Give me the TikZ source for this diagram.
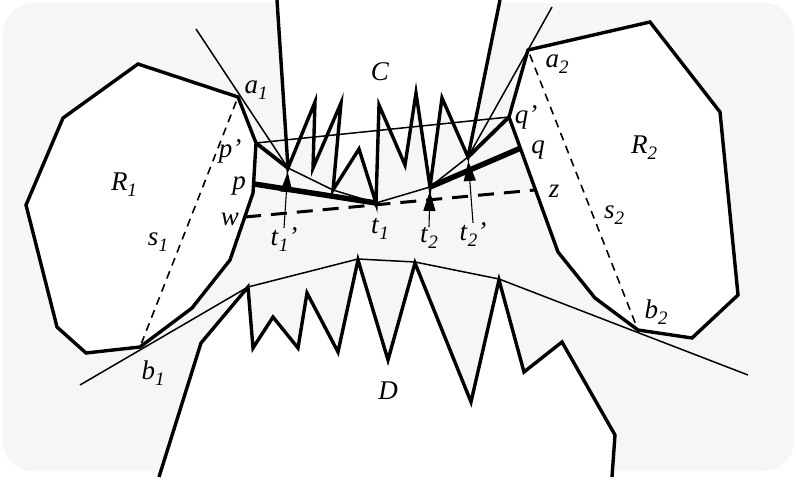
\documentclass[tikz,border=0pt]{standalone}
\usepackage{fontspec}
\setmainfont{Liberation Serif}
\usetikzlibrary{arrows.meta}
\definecolor{bg}{HTML}{F6F6F6}
\newcommand{\lab}[2]{\textit{#1}\raisebox{-6pt}{\fontsize{19}{19}\selectfont\textit{#2}}}

\begin{document}
\begin{tikzpicture}[x=1pt, y=-1pt, font=\fontsize{27}{27}\selectfont]
    \tikzset{
      edge/.style={line width=3.4pt},
      hull/.style={line width=1.5pt},
      bold/.style={line width=5.5pt},
      seg/.style={line width=3.8pt},
      sep/.style={line width=1.6pt, dash pattern=on 8pt off 6pt, shorten <=5pt, shorten >=4pt},
      cut/.style={line width=3pt, dash pattern=on 16pt off 10pt},
      ptr/.style={line width=1.1pt, -{Triangle[length=20pt,width=12pt]}, shorten >=4pt},
      lbl/.style={inner sep=0pt}
    }
    \useasboundingbox (0,0) rectangle (796,482);
    \fill[bg, rounded corners=30pt] (3,3) rectangle (794,471);
    % points
    \coordinate (a1) at (238,97);
    \coordinate (pp) at (256,143);
    \coordinate (p) at (254,184);
    \coordinate (w) at (245,217);
    \coordinate (b1) at (140,347);
    \coordinate (a2) at (528,50);
    \coordinate (qq) at (509,117);
    \coordinate (q) at (521,148);
    \coordinate (z) at (535,190);
    \coordinate (b2) at (638,330);
    \coordinate (t1) at (376,203);
    \coordinate (t2) at (430,187);
    \coordinate (t1p) at (288,168);
    \coordinate (t2p) at (468,157);
    % obstacles R1, R2
    \filldraw[fill=white, edge] (138,64) -- (a1) -- (pp) -- (253,193) -- (230,260) -- (192,308)
      -- (b1) -- (86,353) -- (57,327) -- (26,205) -- (63,118) -- cycle;
    \filldraw[fill=white, edge] (a2) -- (650,22) -- (720,112) -- (738,295) -- (692,338) -- (b2)
      -- (595,298) -- (558,252) -- (qq) -- cycle;
    % chains C and D
    \filldraw[fill=white, edge] (277,0) -- (t1p) -- (315,102) -- (313,168) -- (341,103) -- (333,190)
      -- (359,149) -- (t1) -- (379,105) -- (405,165) -- (416,93) -- (t2) -- (442,98) -- (t2p) -- (500,0);
    \filldraw[fill=white, edge] (159,477) -- (201,343) -- (248,287) -- (253,348) -- (273,317) -- (298,348)
      -- (307,293) -- (338,352) -- (358,260) -- (388,360) -- (415,263) -- (471,402) -- (499,280)
      -- (524,372) -- (562,342) -- (615,435) -- (612,477);
    % hulls
    \draw[hull] (80,385) -- (248,287) -- (358,259) -- (415,262) -- (499,279) -- (748,375);
    \draw[hull] (196,29) -- (t1p) -- (333,190) -- (t1) -- (t2) -- (t2p) -- (a2) -- (552,7);
    \draw[hull] (pp) -- (qq);
    % separators
    \draw[sep] (a1) -- (b1);
    \draw[sep] (a2) -- (b2);
    \draw[cut] (w) -- (z);
    \draw[seg] (pp) -- (t1p);
    \draw[seg] (t2p) -- (qq);
    \draw[bold] (p) -- (t1);
    \draw[bold] (t2) -- (q);
    % labels
    \node[lbl] (Clbl) at (380,72) {\textit{C}};
    \node[lbl] (Dlbl) at (388,391) {\textit{D}};
    \node[lbl] (R1lbl) at (124,185) {\lab{R}{1}};
    \node[lbl] (R2lbl) at (644,148) {\lab{R}{2}};
    \node[lbl] (a1lbl) at (256,90) {\lab{a}{1}};
    \node[lbl] (a2lbl) at (557,64) {\lab{a}{2}};
    \node[lbl] (b1lbl) at (153,373) {\lab{b}{1}};
    \node[lbl] (b2lbl) at (656,312) {\lab{b}{2}};
    \node[lbl] (s1lbl) at (158,242) {\lab{s}{1}};
    \node[lbl] (s2lbl) at (614,215) {\lab{s}{2}};
    \node[lbl] (pplbl) at (230,151) {\textit{p'}};
    \node[lbl] (plbl) at (239,186) {\textit{p}};
    \node[lbl] (wlbl) at (230,219) {\textit{w}};
    \node[lbl] (zlbl) at (554,191) {\textit{z}};
    \node[lbl] (qqlbl) at (526,117) {\textit{q'}};
    \node[lbl] (qlbl) at (538,150) {\textit{q}};
    \node[lbl] (t1lbl) at (380,229) {\lab{t}{1}};
    \node[lbl] (t2lbl) at (429,238) {\lab{t}{2}};
    \node[lbl] (t1plbl) at (284,240) {\lab{t}{1}\textit{'}};
    \node[lbl] (t2plbl) at (473,235) {\lab{t}{2}\textit{'}};
    % pointers
    \draw[ptr] (t1plbl.north) -- (t1p);
    \draw[ptr] (t2lbl.north) -- (t2);
    \draw[ptr] (t2plbl.north) -- (t2p);
\end{tikzpicture}
\end{document}
